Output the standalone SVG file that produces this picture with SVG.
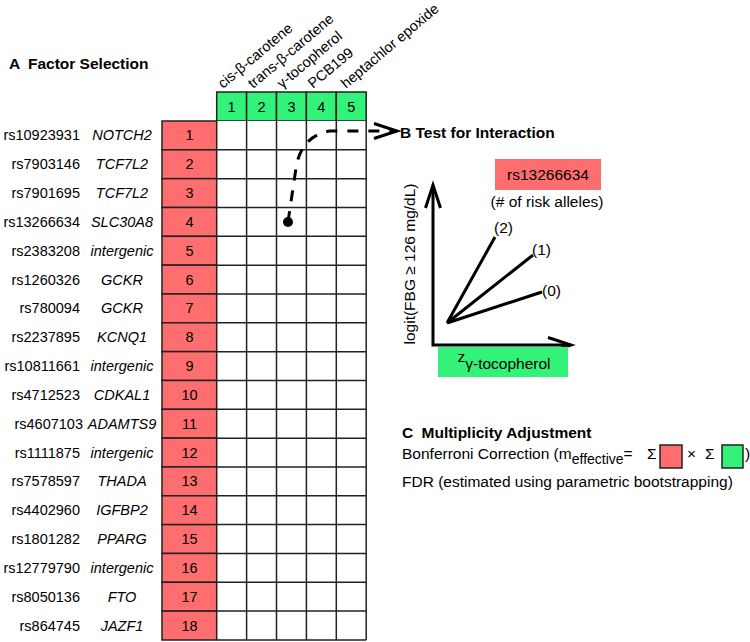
<svg xmlns="http://www.w3.org/2000/svg" width="750" height="642" viewBox="0 0 750 642">
<style>
text{font-family:"Liberation Sans",Arial,Helvetica,sans-serif;fill:#000}
.lab{font-size:14.5px}
.rs{font-size:14.5px;text-anchor:end}
.gene{font-size:14.5px;font-style:italic;text-anchor:middle}
.num{font-size:14.5px;text-anchor:middle}
.hd{font-size:15.5px;font-weight:bold}
.t{font-size:15.5px}
.red{fill:#ff6e6e;stroke:#222;stroke-width:1.5}
.grn{fill:#33f27a;stroke:#222;stroke-width:1.5}
.grid{stroke:#222;stroke-width:1.5;fill:none}
.thick{stroke:#000;stroke-width:3;fill:none}
</style>
<defs>
<marker id="chev" markerUnits="userSpaceOnUse" markerWidth="30" markerHeight="20" viewBox="0 0 30 20" refX="24" refY="10" orient="auto-start-reverse" overflow="visible">
<path d="M1,2.5 L24,10 L1,17.5" fill="none" stroke="#000" stroke-width="3"/>
</marker>
</defs>
<rect width="750" height="642" fill="#fff"/>

<text class="hd" x="9" y="69">A <tspan dx="4">Factor Selection</tspan></text>

<!-- environmental factor headers -->
<g id="env-1"><rect class="grn" x="216.7" y="92" width="29.9" height="29"/><text class="num" x="231.65" y="111.5">1</text><text class="lab" transform="translate(223,89) rotate(-40)">cis-β-carotene</text></g>
<g id="env-2"><rect class="grn" x="246.6" y="92" width="29.9" height="29"/><text class="num" x="261.55" y="111.5">2</text><text class="lab" transform="translate(253,89) rotate(-40)">trans-β-carotene</text></g>
<g id="env-3"><rect class="grn" x="276.5" y="92" width="29.9" height="29"/><text class="num" x="291.45" y="111.5">3</text><text class="lab" transform="translate(282,89) rotate(-40)">γ-tocopherol</text></g>
<g id="env-4"><rect class="grn" x="306.4" y="92" width="29.9" height="29"/><text class="num" x="321.35" y="111.5">4</text><text class="lab" transform="translate(313,89) rotate(-40)">PCB199</text></g>
<g id="env-5"><rect class="grn" x="336.3" y="92" width="29.9" height="29"/><text class="num" x="351.25" y="111.5">5</text><text class="lab" transform="translate(346,89) rotate(-40)">heptachlor epoxide</text></g>

<!-- interaction grid -->
<g id="grid">
<rect x="216.7" y="121" width="149.5" height="519" fill="#fff"/>
<path class="grid" d="M246.6,121V640M276.5,121V640M306.4,121V640M336.3,121V640M366.2,121V640
M216.7,149.83H366.2M216.7,178.66H366.2M216.7,207.49H366.2M216.7,236.32H366.2M216.7,265.15H366.2M216.7,293.98H366.2M216.7,322.81H366.2M216.7,351.64H366.2M216.7,380.47H366.2M216.7,409.3H366.2M216.7,438.13H366.2M216.7,466.96H366.2M216.7,495.79H366.2M216.7,524.62H366.2M216.7,553.45H366.2M216.7,582.28H366.2M216.7,611.11H366.2M216.7,640H366.2"/>
</g>

<!-- SNP rows -->
<g id="row-1"><rect class="red" x="162" y="121" width="54.7" height="28.83"/><text class="num" x="189.5" y="140.4">1</text><text class="rs" x="80" y="140.4">rs10923931</text><text class="gene" x="122" y="140.4">NOTCH2</text></g>
<g id="row-2"><rect class="red" x="162" y="149.83" width="54.7" height="28.83"/><text class="num" x="189.5" y="169.2">2</text><text class="rs" x="80" y="169.2">rs7903146</text><text class="gene" x="122" y="169.2">TCF7L2</text></g>
<g id="row-3"><rect class="red" x="162" y="178.66" width="54.7" height="28.83"/><text class="num" x="189.5" y="198.1">3</text><text class="rs" x="80" y="198.1">rs7901695</text><text class="gene" x="122" y="198.1">TCF7L2</text></g>
<g id="row-4"><rect class="red" x="162" y="207.49" width="54.7" height="28.83"/><text class="num" x="189.5" y="226.9">4</text><text class="rs" x="80" y="226.9">rs13266634</text><text class="gene" x="122" y="226.9">SLC30A8</text></g>
<g id="row-5"><rect class="red" x="162" y="236.32" width="54.7" height="28.83"/><text class="num" x="189.5" y="255.7">5</text><text class="rs" x="80" y="255.7">rs2383208</text><text class="gene" x="122" y="255.7">intergenic</text></g>
<g id="row-6"><rect class="red" x="162" y="265.15" width="54.7" height="28.83"/><text class="num" x="189.5" y="284.6">6</text><text class="rs" x="80" y="284.6">rs1260326</text><text class="gene" x="122" y="284.6">GCKR</text></g>
<g id="row-7"><rect class="red" x="162" y="293.98" width="54.7" height="28.83"/><text class="num" x="189.5" y="313.4">7</text><text class="rs" x="80" y="313.4">rs780094</text><text class="gene" x="122" y="313.4">GCKR</text></g>
<g id="row-8"><rect class="red" x="162" y="322.81" width="54.7" height="28.83"/><text class="num" x="189.5" y="342.2">8</text><text class="rs" x="80" y="342.2">rs2237895</text><text class="gene" x="122" y="342.2">KCNQ1</text></g>
<g id="row-9"><rect class="red" x="162" y="351.64" width="54.7" height="28.83"/><text class="num" x="189.5" y="371.1">9</text><text class="rs" x="80" y="371.1">rs10811661</text><text class="gene" x="122" y="371.1">intergenic</text></g>
<g id="row-10"><rect class="red" x="162" y="380.47" width="54.7" height="28.83"/><text class="num" x="189.5" y="399.9">10</text><text class="rs" x="80" y="399.9">rs4712523</text><text class="gene" x="122" y="399.9">CDKAL1</text></g>
<g id="row-11"><rect class="red" x="162" y="409.3" width="54.7" height="28.83"/><text class="num" x="189.5" y="428.7">11</text><text class="rs" x="83" y="428.7">rs4607103</text><text class="gene" x="122" y="428.7">ADAMTS9</text></g>
<g id="row-12"><rect class="red" x="162" y="438.13" width="54.7" height="28.83"/><text class="num" x="189.5" y="457.6">12</text><text class="rs" x="80" y="457.6">rs1111875</text><text class="gene" x="122" y="457.6">intergenic</text></g>
<g id="row-13"><rect class="red" x="162" y="466.96" width="54.7" height="28.83"/><text class="num" x="189.5" y="486.4">13</text><text class="rs" x="80" y="486.4">rs7578597</text><text class="gene" x="122" y="486.4">THADA</text></g>
<g id="row-14"><rect class="red" x="162" y="495.79" width="54.7" height="28.83"/><text class="num" x="189.5" y="515.2">14</text><text class="rs" x="80" y="515.2">rs4402960</text><text class="gene" x="122" y="515.2">IGFBP2</text></g>
<g id="row-15"><rect class="red" x="162" y="524.62" width="54.7" height="28.83"/><text class="num" x="189.5" y="544.1">15</text><text class="rs" x="80" y="544.1">rs1801282</text><text class="gene" x="122" y="544.1">PPARG</text></g>
<g id="row-16"><rect class="red" x="162" y="553.45" width="54.7" height="28.83"/><text class="num" x="189.5" y="572.9">16</text><text class="rs" x="80" y="572.9">rs12779790</text><text class="gene" x="122" y="572.9">intergenic</text></g>
<g id="row-17"><rect class="red" x="162" y="582.28" width="54.7" height="28.83"/><text class="num" x="189.5" y="601.7">17</text><text class="rs" x="80" y="601.7">rs8050136</text><text class="gene" x="122" y="601.7">FTO</text></g>
<g id="row-18"><rect class="red" x="162" y="611.11" width="54.7" height="28.89"/><text class="num" x="189.5" y="630.6">18</text><text class="rs" x="80" y="630.6">rs864745</text><text class="gene" x="122" y="630.6">JAZF1</text></g>

<!-- connector -->
<g id="connectors">
<circle cx="288" cy="222" r="5" fill="#000"/>
<path d="M288,222 L296,168 Q301,136 330,131 L397,131" fill="none" stroke="#000" stroke-width="3" stroke-dasharray="11,10" marker-end="url(#chev)"/>
</g>

<!-- panel B -->
<g id="panel-b">
<text class="hd" x="400" y="138">B Test for Interaction</text>
<g id="snp-box">
<rect x="495" y="159" width="106" height="31" fill="#ff6e6e"/>
<text class="t" x="548" y="180" text-anchor="middle">rs13266634</text>
<text class="t" x="547" y="207" text-anchor="middle">(# of risk alleles)</text>
</g>
<path class="thick" d="M433,185 L433,345 L571,345" marker-start="url(#chev)" marker-end="url(#chev)"/>
<text class="t" transform="translate(415,264) rotate(-90)" text-anchor="middle">logit(FBG ≥ 126 mg/dL)</text>
<g id="xlab">
<rect x="438" y="347" width="130" height="30" fill="#33f27a"/>
<text class="t" x="504" y="362" text-anchor="middle">z<tspan dy="7">γ-tocopherol</tspan></text>
</g>
<path class="thick" d="M447,323 L495,237 M447,323 L533,255 M447,323 L542,292"/>
<text class="t" x="494" y="233">(2)</text>
<text class="t" x="532" y="255">(1)</text>
<text class="t" x="542" y="296">(0)</text>
</g>

<!-- panel C -->
<g id="panel-c">
<text class="hd" x="402" y="438">C <tspan dx="4">Multiplicity Adjustment</tspan></text>
<text class="t" x="402" y="459">Bonferroni Correction (m<tspan dy="5" font-size="14px">effective</tspan><tspan dy="-5">=</tspan></text>
<text class="t" x="647" y="459">Σ</text>
<rect x="660" y="445" width="22" height="23" fill="#ff6e6e" stroke="#222" stroke-width="1.5"/>
<text class="t" x="687" y="459">×</text>
<text class="t" x="705" y="459">Σ</text>
<rect x="722" y="445" width="21" height="23" fill="#33f27a" stroke="#222" stroke-width="1.5"/>
<text class="t" x="745" y="459">)</text>
<text class="t" x="402" y="487">FDR (estimated using parametric bootstrapping)</text>
</g>
</svg>
